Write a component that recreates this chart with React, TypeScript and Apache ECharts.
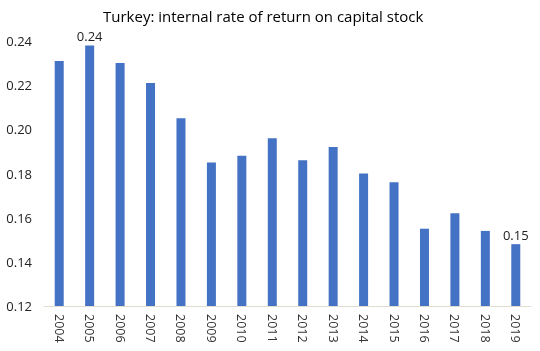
import React, { useEffect, useRef } from "react";
import * as echarts from "echarts";

const years = ["2004","2005","2006","2007","2008","2009","2010","2011","2012","2013","2014","2015","2016","2017","2018","2019"];
const values = [0.231,0.238,0.230,0.221,0.205,0.185,0.188,0.196,0.186,0.192,0.180,0.176,0.155,0.162,0.154,0.148];
const labeledYears = ["2005","2019"];
const titleText = "Turkey: internal rate of return on capital stock";

export default function App() {
  const ref = useRef<HTMLDivElement>(null);
  useEffect(() => {
    const chart = echarts.init(ref.current!, undefined, { renderer: "svg" });
    const font = "'Open Sans', 'Noto Sans', sans-serif";
    chart.setOption({
      animation: false,
      title: {
        text: titleText,
        left: 98,
        top: 3,
        textStyle: { fontFamily: font, fontSize: 15, fontWeight: "normal", color: "#000" },
      },
      grid: { left: 44, right: 9, top: 41, bottom: 45, containLabel: false },
      xAxis: {
        type: "category",
        data: years,
        axisLine: { show: true, lineStyle: { color: "#e0ddd0", width: 1 } },
        axisTick: { show: false },
        axisLabel: { rotate: -90, fontFamily: font, fontSize: 12.5, color: "#333", margin: 8, interval: 0 },
      },
      yAxis: {
        type: "value",
        min: 0.12,
        max: 0.24,
        interval: 0.02,
        axisLine: { show: false },
        axisTick: { show: false },
        splitLine: { show: false },
        axisLabel: {
          fontFamily: font, fontSize: 13, color: "#222", margin: 12,
          formatter: (v: number) => v.toFixed(2),
        },
      },
      series: [
        {
          type: "bar",
          data: values.map((v, i) => ({
            value: v,
            label: {
              show: labeledYears.includes(years[i]),
              position: "top",
              distance: 3,
              formatter: (p: any) => p.value.toFixed(2),
              fontFamily: font,
              fontSize: 13,
              color: "#222",
            },
          })),
          barWidth: 9,
          itemStyle: { color: "#4472C4" },
        },
      ],
    });
    return () => chart.dispose();
  }, []);
  return <div ref={ref} style={{ position: "fixed", left: 0, top: 0, width: 540, height: 351 }} />;
}
